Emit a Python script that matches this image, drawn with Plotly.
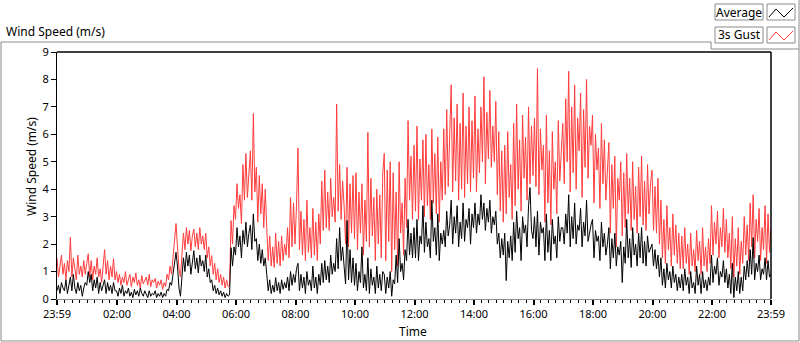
import plotly.graph_objects as go

# Time axis: minutes after 23:59 (previous day), sampled every 3 minutes, plus the end point
time_min = list(range(0, 1440, 3)) + [1440]

tick_vals = [0, 121, 241, 361, 481, 601, 721, 841, 961, 1081, 1201, 1321, 1440]
tick_text = ["23:59", "02:00", "04:00", "06:00", "08:00", "10:00", "12:00",
             "14:00", "16:00", "18:00", "20:00", "22:00", "23:59"]

# one row per hour (20 samples)
gust_3s = [
    1.5, 0.8, 1.2, 1.6, 0.9, 1.3, 0.7, 1.4, 1.0, 2.25, 0.8, 1.5, 1.1, 0.7, 1.6, 0.9, 1.2, 0.8, 1.4, 0.9,
    1.3, 1.65, 0.8, 1.4, 0.7, 1.2, 0.9, 1.5, 0.8, 1.1, 0.6, 1.3, 1.8, 0.9, 1.4, 0.7, 1.2, 0.8, 1.47, 0.7,
    1.0, 0.6, 0.9, 0.5, 0.8, 0.6, 1.0, 0.5, 0.7, 0.9, 0.45, 0.8, 0.6, 0.95, 0.5, 0.7, 0.4, 0.85, 0.55, 0.7,
    0.8, 0.5, 0.9, 0.45, 0.7, 0.6, 0.75, 0.4, 0.65, 0.5, 0.7, 0.35, 0.6, 0.45, 0.9, 0.7, 1.2, 0.9, 1.6, 2.1,
    2.75, 1.9, 1.1, 0.8, 1.6, 2.4, 1.8, 2.6, 2.0, 2.5, 1.76, 2.3, 2.55, 1.9, 2.4, 1.8, 2.6, 2.0, 2.3, 1.8,
    2.4, 1.5, 1.9, 1.2, 1.58, 0.9, 1.3, 0.7, 1.1, 0.6, 0.9, 0.5, 0.8, 0.4, 0.7, 0.45, 0.5, 2.86, 2.0, 3.4,
    2.9, 4.2, 3.3, 3.8, 2.75, 4.9, 3.6, 5.3, 3.7, 4.8, 5.4, 3.6, 6.76, 3.9, 4.8, 2.8, 4.5, 3.1, 4.2, 2.6,
    4.0, 2.6, 1.4, 2.3, 1.2, 1.9, 1.15, 2.4, 1.3, 2.1, 1.2, 2.3, 1.4, 2.0, 1.6, 2.6, 1.5, 3.7, 1.9, 3.5,
    2.0, 3.4, 5.5, 1.8, 3.2, 1.6, 2.9, 1.4, 3.6, 1.7, 2.6, 1.5, 3.3, 1.6, 2.8, 1.4, 3.1, 2.0, 4.3, 2.5,
    4.7, 2.6, 3.9, 2.5, 4.4, 3.0, 3.7, 2.8, 7.1, 3.2, 4.9, 2.9, 4.3, 3.4, 2.0, 4.8, 1.9, 4.2, 2.4, 4.5,
    2.2, 4.6, 1.8, 3.9, 2.4, 4.2, 1.6, 3.6, 2.1, 6.07, 1.9, 4.4, 2.3, 3.7, 1.4, 4.0, 2.0, 3.8, 1.5, 4.6,
    5.3, 1.4, 4.7, 2.1, 5.0, 1.0, 4.6, 1.8, 3.9, 1.2, 5.0, 2.4, 3.5, 1.6, 4.4, 2.6, 6.5, 3.6, 5.2, 2.9,
    5.6, 3.2, 6.3, 2.9, 5.1, 3.6, 5.8, 3.0, 6.0, 3.4, 4.9, 2.9, 6.2, 3.5, 5.3, 3.1, 5.9, 2.8, 5.0, 3.6,
    6.2, 3.8, 6.9, 4.1, 5.6, 7.8, 3.9, 6.6, 4.3, 7.1, 3.6, 6.4, 4.0, 7.5, 3.7, 6.3, 4.2, 7.0, 3.9, 6.5,
    4.4, 7.4, 3.9, 6.2, 4.6, 7.0, 5.0, 8.1, 4.2, 6.8, 5.1, 7.6, 4.8, 6.3, 5.0, 7.2, 3.8, 6.1, 3.2, 5.4,
    2.8, 5.6, 3.1, 6.1, 3.7, 4.9, 2.9, 6.4, 3.4, 7.1, 4.0, 5.8, 3.2, 6.7, 4.4, 5.9, 3.6, 7.0, 4.2, 6.3,
    4.5, 6.6, 4.1, 8.4, 3.8, 6.2, 4.7, 5.6, 2.8, 6.7, 3.5, 5.4, 2.7, 6.1, 4.0, 5.0, 3.1, 6.5, 4.3, 5.5,
    6.4, 4.2, 7.3, 5.0, 8.3, 3.9, 7.0, 4.6, 7.8, 4.0, 6.6, 5.4, 7.5, 3.7, 6.9, 4.8, 8.0, 4.4, 6.3, 5.6,
    6.7, 3.5, 6.0, 4.7, 5.5, 3.3, 6.4, 4.2, 5.8, 3.6, 4.6, 5.7, 2.4, 4.9, 3.3, 5.2, 1.9, 4.4, 3.6, 5.0,
    2.3, 4.6, 2.6, 5.3, 3.1, 4.4, 2.5, 5.0, 2.9, 4.1, 2.4, 4.8, 3.0, 5.2, 2.7, 4.3, 2.5, 4.9, 3.1, 4.2,
    4.7, 2.5, 4.1, 2.4, 4.4, 2.0, 3.6, 1.5, 2.9, 1.3, 3.4, 1.8, 2.6, 1.2, 3.1, 1.6, 2.7, 1.3, 2.4, 1.1,
    2.3, 1.1, 2.6, 1.3, 2.0, 0.9, 2.4, 1.2, 1.8, 1.0, 2.5, 1.4, 2.1, 0.9, 2.6, 1.2, 1.9, 1.0, 2.2, 1.3,
    3.4, 1.6, 2.8, 2.0, 3.2, 1.5, 2.6, 1.9, 3.3, 1.7, 2.9, 1.5, 2.4, 1.1, 3.0, 0.8, 2.2, 1.2, 2.6, 0.9,
    2.1, 1.3, 3.0, 1.6, 2.7, 1.4, 3.5, 1.9, 3.8, 1.5, 2.9, 2.1, 3.3, 1.4, 2.6, 1.8, 3.4, 1.3, 3.1, 1.7,
    2.6,
]

average = [
    0.3, 0.5, 0.2, 0.6, 0.4, 0.3, 0.7, 0.2, 0.5, 0.8, 0.3, 0.9, 0.4, 0.2, 0.6, 0.3, 0.5, 0.1, 0.4, 0.6,
    0.5, 1.0, 0.6, 0.9, 0.3, 0.7, 0.4, 0.8, 0.2, 0.6, 0.3, 0.5, 0.7, 0.2, 0.6, 0.3, 0.5, 0.2, 0.6, 0.3,
    0.3, 0.1, 0.4, 0.2, 0.5, 0.1, 0.3, 0.2, 0.4, 0.1, 0.25, 0.05, 0.35, 0.15, 0.3, 0.1, 0.4, 0.2, 0.1, 0.3,
    0.2, 0.05, 0.3, 0.1, 0.2, 0.15, 0.3, 0.05, 0.2, 0.1, 0.25, 0.05, 0.2, 0.1, 0.35, 0.3, 0.6, 0.5, 0.9, 1.3,
    1.7, 1.2, 0.4, 0.1, 0.9, 1.5, 1.0, 1.7, 1.2, 1.6, 0.9, 1.4, 1.76, 1.1, 1.5, 0.95, 1.6, 1.2, 1.4, 1.0,
    1.6, 0.8, 1.1, 0.6, 0.7, 0.3, 0.5, 0.2, 0.4, 0.15, 0.3, 0.1, 0.25, 0.05, 0.2, 0.1, 0.15, 1.87, 1.2, 1.9,
    1.6, 2.6, 1.9, 2.3, 1.5, 2.5, 2.0, 2.8, 1.9, 2.4, 2.7, 1.8, 3.1, 2.1, 2.2, 1.4, 2.0, 1.3, 1.8, 1.2,
    1.5, 0.9, 0.3, 0.7, 0.2, 0.5, 0.25, 0.78, 0.3, 0.6, 0.2, 0.7, 0.35, 0.6, 0.4, 0.8, 0.3, 1.0, 0.5, 0.9,
    0.6, 1.1, 1.3, 0.3, 0.9, 0.4, 0.8, 0.2, 1.0, 0.5, 0.7, 0.3, 1.2, 0.4, 0.8, 0.2, 0.9, 0.5, 1.3, 0.6,
    1.4, 0.7, 1.2, 0.6, 1.6, 0.9, 1.3, 1.0, 2.2, 1.1, 2.6, 1.4, 1.9, 1.2, 0.55, 2.86, 0.7, 1.8, 0.6, 1.5,
    0.5, 1.3, 0.3, 1.0, 0.6, 1.9, 0.4, 0.9, 0.3, 1.5, 0.2, 1.1, 0.5, 0.8, 0.2, 1.2, 0.4, 0.9, 0.3, 1.0,
    0.9, 0.2, 0.8, 0.4, 1.0, 0.1, 0.7, 0.55, 1.6, 0.6, 2.2, 1.0, 1.3, 0.7, 1.8, 1.4, 2.9, 1.6, 2.4, 1.5,
    2.6, 1.5, 2.9, 1.4, 2.3, 2.0, 3.4, 1.7, 2.8, 1.9, 2.2, 1.5, 3.6, 2.1, 2.6, 1.6, 3.1, 1.4, 2.4, 2.0,
    2.5, 1.9, 3.2, 2.3, 2.7, 3.6, 2.0, 3.0, 2.4, 3.4, 1.9, 2.8, 2.2, 3.5, 2.1, 2.9, 2.6, 3.3, 2.0, 3.1,
    2.6, 3.5, 2.4, 3.1, 2.7, 3.8, 2.9, 3.5, 2.5, 3.3, 2.8, 3.6, 2.4, 3.0, 2.7, 3.2, 2.0, 2.4, 1.5, 2.2,
    1.6, 2.4, 0.67, 2.1, 1.5, 2.3, 1.4, 2.8, 1.7, 3.2, 2.2, 2.6, 1.4, 3.0, 2.4, 2.7, 1.9, 3.4, 4.06, 2.5,
    2.2, 3.0, 1.9, 3.2, 1.6, 2.8, 2.4, 2.6, 1.4, 3.1, 1.7, 2.5, 1.4, 2.9, 2.0, 2.3, 1.5, 3.0, 2.1, 2.6,
    2.6, 2.0, 3.1, 2.4, 3.8, 1.9, 3.0, 2.2, 3.5, 2.0, 2.7, 2.5, 3.3, 1.9, 2.8, 2.3, 3.6, 2.1, 2.5, 2.7,
    2.9, 1.5, 2.5, 2.1, 2.3, 1.4, 2.8, 1.9, 2.4, 1.6, 2.0, 2.6, 1.1, 2.2, 1.5, 2.4, 1.2, 1.9, 1.6, 2.1,
    0.6, 1.9, 1.3, 2.9, 1.5, 2.2, 1.15, 2.6, 1.6, 2.0, 1.2, 2.4, 1.5, 2.6, 1.3, 2.1, 1.2, 2.3, 1.7, 1.9,
    2.0, 1.2, 1.8, 1.1, 1.6, 0.8, 1.5, 0.5, 1.1, 0.4, 1.3, 0.7, 1.0, 0.4, 1.2, 0.6, 0.9, 0.3, 0.8, 0.4,
    0.9, 0.3, 1.1, 0.5, 0.8, 0.2, 1.0, 0.4, 0.6, 0.2, 1.2, 0.5, 0.9, 0.2, 1.0, 0.4, 0.7, 0.3, 0.8, 0.5,
    1.6, 0.6, 1.2, 0.9, 1.5, 0.5, 1.0, 0.8, 1.4, 0.6, 1.1, 0.4, 0.9, 0.2, 1.3, 0.05, 0.8, 0.3, 1.0, 0.2,
    0.8, 0.3, 1.2, 0.7, 1.4, 0.8, 1.8, 0.9, 2.24, 0.7, 1.3, 1.0, 1.6, 0.7, 1.1, 0.9, 1.5, 0.7, 1.4, 0.8,
    0.9,
]

FONT = "Noto Sans"
W, H = 800, 342
L, R, T, B = 57, 29, 52, 43
PW, PH = W - L - R, H - T - B


def px(x):
    return (x - L) / PW


def py(y):
    return (H - B - y) / PH


fig = go.Figure()
fig.add_trace(go.Scatter(x=time_min, y=gust_3s, mode="lines", name="3s Gust",
                         line=dict(color="#ff3c3c", width=1), showlegend=False))
fig.add_trace(go.Scatter(x=time_min, y=average, mode="lines", name="Average",
                         line=dict(color="#000000", width=1), showlegend=False))

shapes = []
# outer gray frame
shapes.append(dict(type="path", xref="paper", yref="paper",
                   path=f"M {px(1)},{py(341)} L {px(1)},{py(42)} L {px(711)},{py(42)} "
                        f"L {px(711)},{py(49)} L {px(799)},{py(49)}",
                   line=dict(color="#8a8a8a", width=1)))
shapes.append(dict(type="line", xref="paper", yref="paper",
                   x0=px(799), x1=px(799), y0=py(0), y1=py(341),
                   line=dict(color="#8a8a8a", width=1)))
shapes.append(dict(type="line", xref="paper", yref="paper",
                   x0=px(1), x1=px(799), y0=py(341), y1=py(341),
                   line=dict(color="#8a8a8a", width=1)))
# plot border top/right (black)
shapes.append(dict(type="line", xref="paper", yref="paper", x0=0, x1=1, y0=1, y1=1,
                   line=dict(color="#000", width=1.5)))
shapes.append(dict(type="line", xref="paper", yref="paper", x0=1, x1=1, y0=0, y1=1,
                   line=dict(color="#000", width=1.5)))

annotations = []
# legend boxes
for label, color, top in [("Average", "#000000", 4), ("3s Gust", "#ff3c3c", 27)]:
    shapes.append(dict(type="rect", xref="paper", yref="paper",
                       x0=px(715), x1=px(763), y0=py(top), y1=py(top + 16),
                       line=dict(color="#8a8a8a", width=1), fillcolor="white"))
    shapes.append(dict(type="rect", xref="paper", yref="paper",
                       x0=px(767), x1=px(795), y0=py(top), y1=py(top + 16),
                       line=dict(color="#8a8a8a", width=1), fillcolor="white"))
    shapes.append(dict(type="path", xref="paper", yref="paper",
                       path=f"M {px(769)},{py(top + 13)} L {px(776)},{py(top + 5)} "
                            f"L {px(784)},{py(top + 13)} L {px(793)},{py(top + 4)}",
                       line=dict(color=color, width=1)))
    annotations.append(dict(xref="paper", yref="paper", x=px(739), y=py(top + 8),
                            text=label, showarrow=False, xanchor="center", yanchor="middle",
                            font=dict(family=FONT, size=12, color="#000")))

annotations.append(dict(xref="paper", yref="paper", x=px(4), y=py(32), text="Wind Speed (m/s)",
                        showarrow=False, xanchor="left", yanchor="middle",
                        font=dict(family=FONT, size=12, color="#000")))
annotations.append(dict(xref="paper", yref="paper", x=px(31), y=py(167), text="Wind Speed (m/s)",
                        showarrow=False, textangle=-90, xanchor="center", yanchor="middle",
                        font=dict(family=FONT, size=12, color="#000")))
annotations.append(dict(xref="paper", yref="paper", x=px(413), y=py(331), text="Time",
                        showarrow=False, xanchor="center", yanchor="middle",
                        font=dict(family=FONT, size=12, color="#000")))

fig.update_layout(
    width=W, height=H,
    margin=dict(l=L, r=R, t=T, b=B),
    paper_bgcolor="white", plot_bgcolor="white",
    font=dict(family=FONT, size=11, color="#000"),
    shapes=shapes, annotations=annotations,
    hovermode=False,
    xaxis=dict(range=[0, 1440], tickmode="array", tickvals=tick_vals, ticktext=tick_text,
               showgrid=False, zeroline=False, showline=True, linecolor="#8a8a8a", linewidth=1,
               ticks="outside", ticklen=5, tickwidth=2, tickcolor="#000",
               tickfont=dict(family=FONT, size=11, color="#000"),
               minor=dict(tick0=1, dtick=15, ticks="outside", ticklen=3, tickwidth=1,
                          tickcolor="#000", showgrid=False)),
    yaxis=dict(range=[0, 9], tickmode="linear", tick0=0, dtick=1,
               showgrid=False, zeroline=False, showline=True, linecolor="#000", linewidth=1,
               ticks="outside", ticklen=5, tickwidth=1, tickcolor="#000",
               tickfont=dict(family=FONT, size=11, color="#000")),
)

fig.write_html("out.html", config={"displayModeBar": False},
               post_script="document.body.style.margin='0';document.body.style.padding='0';")
